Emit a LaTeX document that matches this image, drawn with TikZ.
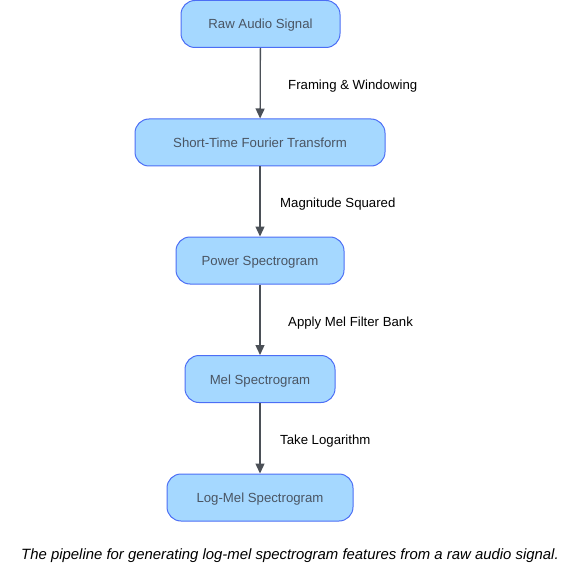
\documentclass[tikz,border=0pt]{standalone}
\usepackage{fontspec}
\setmainfont{Liberation Sans}
\usepackage{xcolor}
\usetikzlibrary{arrows.meta,positioning}
\definecolor{MelFill}{HTML}{A5D8FF}
\definecolor{MelLine}{HTML}{4C6EF5}
\definecolor{MelText}{HTML}{4A5563}
\definecolor{MelArrow}{HTML}{4B5057}
\tikzset{
  >=Latex,
  stagebox/.style={draw=MelLine,fill=MelFill,rounded corners=14pt,line width=1pt,
    minimum height=47pt,align=center,text=MelText,text height=10pt,text depth=0pt,
    font=\fontsize{13.2}{15}\selectfont},
  flow/.style={-{Triangle[length=10pt,width=9pt]},line width=1.3pt,draw=MelArrow},
  steplabel/.style={font=\fontsize{13.2}{15}\selectfont,text=black,anchor=west,inner sep=0pt},
  caption/.style={font=\fontsize{14.9}{17}\selectfont\itshape,text=black}
}
\begin{document}
\begin{tikzpicture}[x=1pt,y=-1pt]
  \useasboundingbox (0,0) rectangle (578,572);
  \node[stagebox,minimum width=159pt] (raw) at (260.5,24) {Raw Audio Signal};
  \node[stagebox,minimum width=250pt] (stft) at (260,142.5) {Short-Time Fourier Transform};
  \node[stagebox,minimum width=168pt] (power) at (260,260.5) {Power Spectrogram};
  \node[stagebox,minimum width=150pt] (mel) at (260,379) {Mel Spectrogram};
  \node[stagebox,minimum width=186pt] (logmel) at (260,497.5) {Log-Mel Spectrogram};

  \draw[flow] (raw) -- (stft);
  \draw[flow] (stft) -- (power);
  \draw[flow] (power) -- (mel);
  \draw[flow] (mel) -- (logmel);

  \node[steplabel] (lframe) at (288,86) {Framing \& Windowing};
  \node[steplabel] (lmag) at (280,204) {Magnitude Squared};
  \node[steplabel] (lfilter) at (288,323) {Apply Mel Filter Bank};
  \node[steplabel] (llog) at (280,441) {Take Logarithm};

  \node[caption] (cap) at (290,556) {The pipeline for generating log-mel spectrogram features from a raw audio signal.};
\end{tikzpicture}
\end{document}
